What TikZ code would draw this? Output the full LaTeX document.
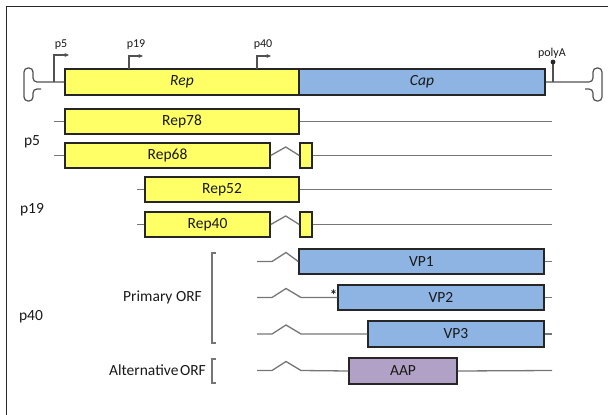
\documentclass[tikz,border=0pt]{standalone}
\usepackage{fontspec}
\setmainfont{Carlito}
\usetikzlibrary{arrows.meta}
\definecolor{repfill}{RGB}{255,255,102}
\definecolor{capfill}{RGB}{141,180,226}
\definecolor{aapfill}{RGB}{178,161,199}
\definecolor{edge}{RGB}{38,38,38}
\definecolor{rowgray}{RGB}{118,118,118}
\definecolor{ink}{RGB}{25,25,25}
\tikzset{
  x=1pt, y=-1pt,
  gene/.style={draw=edge, line width=1.5pt, inner sep=0pt, text=ink,
    font=\fontsize{15.5}{18}\selectfont},
  repbox/.style={gene, fill=repfill},
  capbox/.style={gene, fill=capfill},
  aapbox/.style={gene, fill=aapfill},
  rowline/.style={draw=rowgray, line width=1.3pt},
  stemline/.style={draw=edge!80, line width=1.2pt},
  promoter/.style={stemline, -{Stealth[length=4.5pt,width=4pt]}},
  smalllabel/.style={text=ink, font=\fontsize{12}{14}\selectfont, inner sep=0pt},
  biglabel/.style={text=ink, font=\fontsize{15.5}{18}\selectfont, inner sep=0pt},
  bracketline/.style={draw=rowgray, line width=1.2pt},
}
\begin{document}
\begin{tikzpicture}
\useasboundingbox (0,0) rectangle (608,415);
% page frame (left and top edges)
\draw[edge, line width=1.5pt] (6.5,415) -- (6.5,6.5) -- (608,6.5);

% ---- genome map ----
\node[repbox, minimum width=234, minimum height=26] (rep) at (182,82) {\itshape Rep};
\node[capbox, minimum width=246, minimum height=26] (cap) at (422,82) {\itshape Cap};

% inverted terminal repeats
\draw[stemline, rounded corners=4] (rep.west) -- (33,82) -- (33,68) -- (24,68) -- (24,101) -- (33,101) -- (33,89) -- (41,89);
\draw[stemline, rounded corners=4] (cap.east) -- (593,82) -- (593,68) -- (602,68) -- (602,101) -- (593,101) -- (593,89) -- (585,89);

% promoters
\coordinate (p5base) at (54,82);
\coordinate (p19base) at (129,69);
\coordinate (p40base) at (257,69);
\draw[promoter] (p5base) -- (54,55) -- (69,55);
\draw[promoter] (p19base) -- (129,56) -- (143,56);
\draw[promoter] (p40base) -- (257,56) -- (271,56);
\node[smalllabel] (p5top) at (61,45) {p5};
\node[smalllabel] (p19top) at (136,45) {p19};
\node[smalllabel] (p40top) at (263,45) {p40};

% polyA signal
\coordinate (pAbase) at (553,82);
\coordinate (pAdot) at (553,62);
\draw[stemline] (pAbase) -- (pAdot);
\fill[edge] (pAdot) circle (2.4);
\node[smalllabel] (polyA) at (552,53) {polyA};

% ---- Rep transcripts ----
\node[repbox, minimum width=234, minimum height=25] (rep78) at (182,121.5) {Rep78};
\node[repbox, minimum width=205, minimum height=25] (rep68) at (167.5,155.5) {Rep68};
\node[repbox, minimum width=12, minimum height=25] (ex68) at (306,155.5) {};
\node[repbox, minimum width=154, minimum height=25] (rep52) at (222,189.5) {Rep52};
\node[repbox, minimum width=125, minimum height=25] (rep40) at (207.5,224.5) {Rep40};
\node[repbox, minimum width=12, minimum height=25] (ex40) at (306,224.5) {};

\coordinate (a78) at (54,121.5);  \coordinate (b78) at (552,121.5);
\coordinate (a68) at (54,155.5);  \coordinate (b68) at (552,155.5);
\coordinate (a52) at (137,189.5); \coordinate (b52) at (552,189.5);
\coordinate (a40) at (137,224.5); \coordinate (b40) at (552,224.5);

\draw[rowline] (a78) -- (rep78.west) (rep78.east) -- (b78);
\draw[rowline] (a68) -- (rep68.west) (ex68.east) -- (b68);
\draw[rowline] (rep68.east) -- ++(15,-8.5) -- (ex68.west);
\draw[rowline] (a52) -- (rep52.west) (rep52.east) -- (b52);
\draw[rowline] (a40) -- (rep40.west) (ex40.east) -- (b40);
\draw[rowline] (rep40.east) -- ++(15,-8.5) -- (ex40.west);

\node[biglabel] (lp5) at (32,142) {p5};
\node[biglabel] (lp19) at (32,210) {p19};

% ---- Cap transcripts ----
\node[capbox, minimum width=245, minimum height=25] (vp1) at (421.5,261.5) {VP1};
\node[capbox, minimum width=206, minimum height=25] (vp2) at (441,297.5) {VP2};
\node[capbox, minimum width=176, minimum height=26] (vp3) at (456,334) {VP3};
\node[aapbox, minimum width=108, minimum height=26] (aap) at (403,371) {AAP};

\coordinate (s1) at (257,261.5); \coordinate (e1) at (552,261.5);
\coordinate (s2) at (257,297.5); \coordinate (e2) at (552,297.5);
\coordinate (s3) at (257,334);   \coordinate (e3) at (552,334);
\coordinate (s4) at (257,370.5); \coordinate (e4) at (552,370.5);

\draw[rowline] (s1) -- ++(15,0) -- ++(14,-9) -- (vp1.west);
\draw[rowline] (vp1.east) -- (e1);
\draw[rowline] (s2) -- ++(15,0) -- ++(14,-9) -- ++(15,9) -- (vp2.west);
\draw[rowline] (vp2.east) -- (e2);
\draw[rowline] (s3) -- ++(15,0) -- ++(14,-9) -- ++(15,9) -- (vp3.west);
\draw[rowline] (vp3.east) -- (e3);
\draw[rowline] (s4) -- ++(15,0) -- ++(14,-9) -- ++(15,9) -- (aap.west);
\draw[rowline] (aap.east) -- (e4);
\node[smalllabel, font=\fontsize{15}{16}\selectfont\bfseries] (star) at (333.5,295) {*};

% ORF brackets and labels
\draw[bracketline] (215.5,253) -- (212,253) -- (212,343) -- (215.5,343);
\draw[bracketline] (215.5,359) -- (212,359) -- (212,383) -- (215.5,383);
\node[biglabel, anchor=east] (primary) at (202,297) {Primary ORF};
\node[biglabel, anchor=east] (alternative) at (206,370) {Alternative\hspace{0.1em}ORF};
\node[biglabel] (lp40) at (31,317) {p40};
\end{tikzpicture}
\end{document}
